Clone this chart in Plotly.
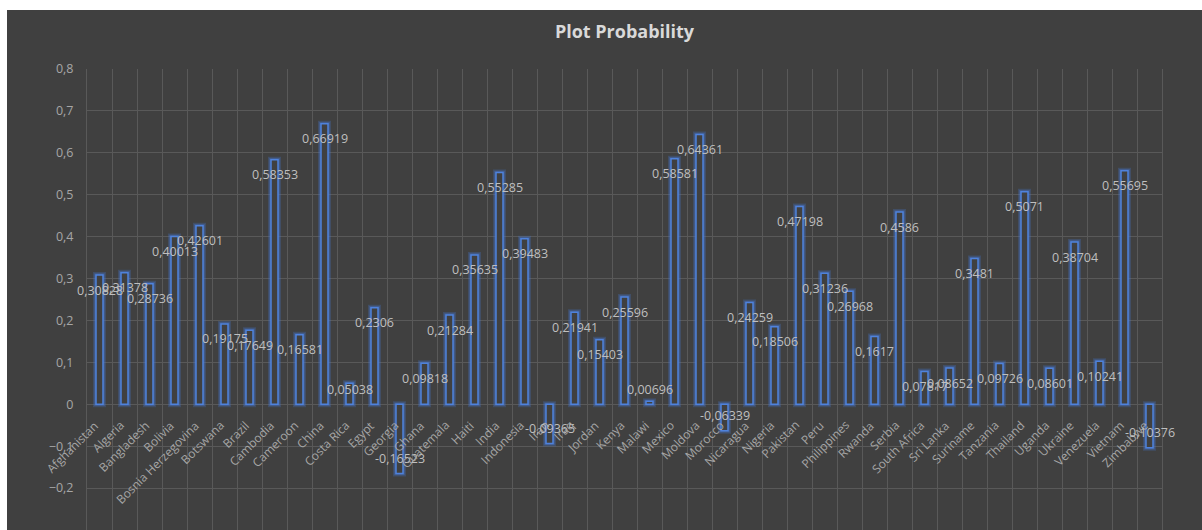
import plotly.graph_objects as go

countries = ["Afghanistan", "Algeria", "Bangladesh", "Bolivia", "Bosnia Herzegovina", "Botswana",
             "Brazil", "Cambodia", "Cameroon", "China", "Costa Rica", "Egypt", "Georgia", "Ghana",
             "Guatemala", "Haiti", "India", "Indonesia", "Iran", "Iraq", "Jordan", "Kenya", "Malawi",
             "Mexico", "Moldova", "Morocco", "Nicaragua", "Nigeria", "Pakistan", "Peru", "Philippines",
             "Rwanda", "Serbia", "South Africa", "Sri Lanka", "Suriname", "Tanzania", "Thailand",
             "Uganda", "Ukraine", "Venezuela", "Vietnam", "Zimbabwe"]
probability = [0.30828, 0.31378, 0.28736, 0.40013, 0.42601, 0.19175,
               0.17649, 0.58353, 0.16581, 0.66919, 0.05038, 0.2306, -0.16523, 0.09818,
               0.21284, 0.35635, 0.55285, 0.39483, -0.09365, 0.21941, 0.15403, 0.25596, 0.00696,
               0.58581, 0.64361, -0.06339, 0.24259, 0.18506, 0.47198, 0.31236, 0.26968,
               0.1617, 0.4586, 0.07817, 0.08652, 0.3481, 0.09726, 0.5071,
               0.08601, 0.38704, 0.10241, 0.55695, -0.10376]

FONT = "Open Sans"
BG = "#404040"
GRID = "#595959"

W, H = 1202, 530
L, R, T, B = 87, 40, 69, 0
PW, PH = W - L - R, H - T - B

fig = go.Figure()
# glow
fig.add_trace(go.Bar(x=countries, y=probability, marker=dict(color="rgba(0,0,0,0)",
                     line=dict(color="rgba(68,114,196,0.28)", width=6)), hoverinfo="skip"))
fig.add_trace(go.Bar(x=countries, y=probability, marker=dict(color="rgba(0,0,0,0)",
                     line=dict(color="rgba(68,114,196,0.45)", width=3.5)), hoverinfo="skip"))
fig.add_trace(go.Bar(x=countries, y=probability, marker=dict(color=BG,
                     line=dict(color="#4f82dc", width=1.5))))

annotations = []
for c, v in zip(countries, probability):
    annotations.append(dict(x=c, y=0, xref="x", yref="y", text=c, showarrow=False,
                            textangle=-45, xanchor="right", yanchor="top", xshift=6, yshift=-10,
                            font=dict(family=FONT, size=12, color="#a6a6a6")))
    if abs(v) < 0.02:
        ys = 12
    elif v > 0:
        ys = -15 if v > 0.07 else -6
    else:
        ys = 15
    annotations.append(dict(x=c, y=v, xref="x", yref="y", text=f"{v}".replace(".", ","),
                            showarrow=False, xanchor="center", yanchor="middle", yshift=ys,
                            font=dict(family=FONT, size=12.5, color="#bfbfbf")))

shapes = [dict(type="rect", xref="paper", yref="paper", layer="below",
               x0=(7 - L) / PW, x1=(W - L) / PW + 0.01, y0=-0.02, y1=(H - 10) / PH,
               fillcolor=BG, line=dict(width=0))]

fig.update_layout(
    width=W, height=H, margin=dict(l=L, r=R, t=T, b=B),
    paper_bgcolor="white", plot_bgcolor=BG,
    barmode="overlay", bargap=0.72, showlegend=False,
    separators=", ",
    font=dict(family=FONT, color="#a6a6a6"),
    title=dict(text="<b>Plot Probability</b>", x=0.5, xref="paper", xanchor="center",
               y=1 - 32 / H, yanchor="middle",
               font=dict(family=FONT, size=18, color="#d9d9d9")),
    xaxis=dict(type="category", tickson="boundaries", showgrid=True, gridcolor=GRID,
               showticklabels=False, ticks="", range=[-0.5, len(countries) - 0.5]),
    yaxis=dict(range=[-0.3, 0.8], dtick=0.1, gridcolor=GRID, zeroline=True, zerolinecolor=GRID,
               zerolinewidth=1, showline=True, mirror=True, linecolor=GRID,
               tickfont=dict(family=FONT, size=12.5, color="#a6a6a6"), ticklabelstandoff=10),
    annotations=annotations, shapes=shapes,
)

fig.write_html("out.html")
